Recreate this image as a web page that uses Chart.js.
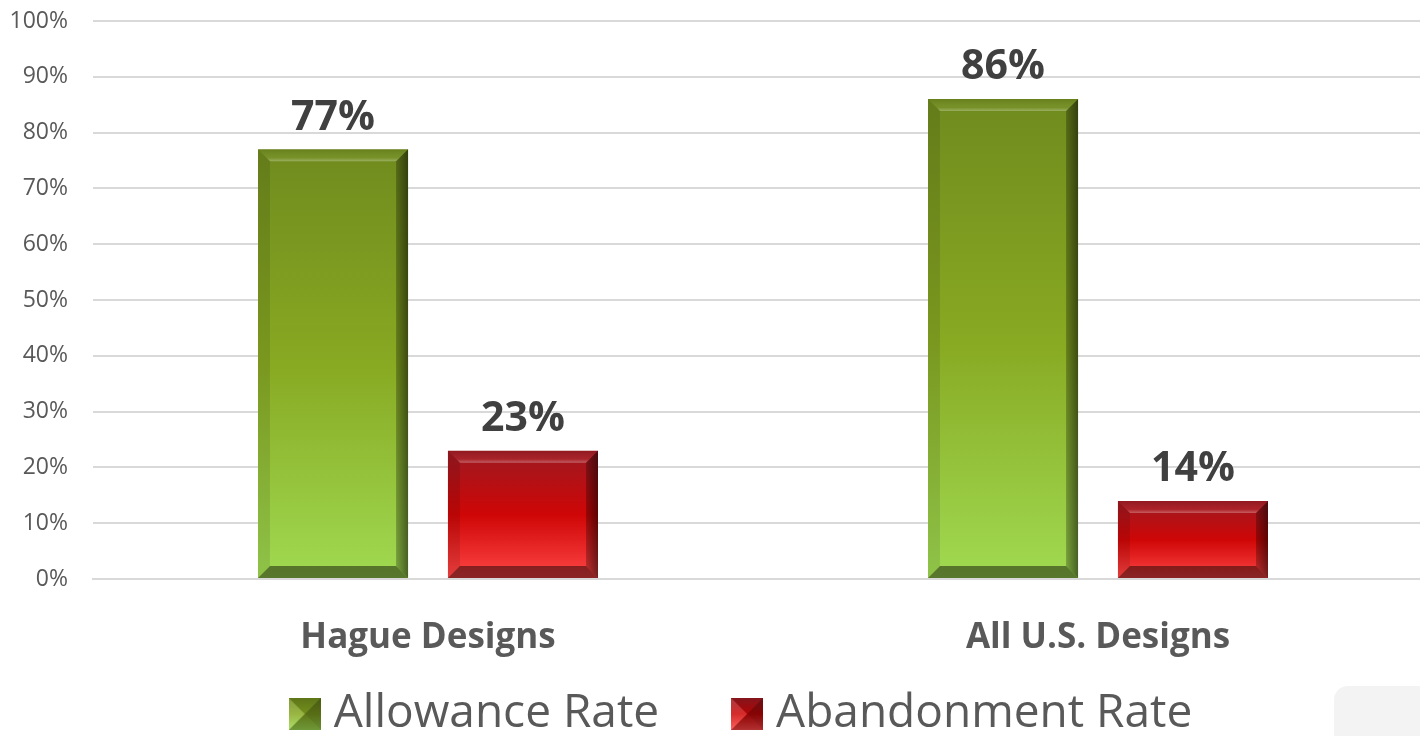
<!DOCTYPE html>
<html>
<head>
<meta charset="utf-8">
<script src="https://cdn.jsdelivr.net/npm/chart.js@4/dist/chart.umd.min.js"></script>
<style>
html,body{margin:0;padding:0;background:#fff;overflow:hidden;}
#wrap{position:relative;width:1433px;height:736px;}
#mark{position:absolute;left:1334px;top:686px;width:120px;height:70px;background:#f3f3f3;border-radius:14px 14px 0 0;}
canvas{display:block;}
</style>
</head>
<body>
<div id="wrap"><div id="mark"></div><canvas id="c" width="1433" height="736"></canvas></div>
<script>
const categories = ["Hague Designs", "All U.S. Designs"];
const seriesNames = ["Allowance Rate", "Abandonment Rate"];
const allowanceRate = [77, 86];
const abandonmentRate = [23, 14];
const yTicks = [0,10,20,30,40,50,60,70,80,90,100];

const palettes = [
  ["#708b1e", "#88a922", "#a0da52"],
  ["#9c1a22", "#cf0606", "#ff4646"]
];
const FONT = '"Open Sans", "Noto Sans", sans-serif';

function barGradient(ctx, di){
  const chart = ctx.chart;
  const ys = chart.scales.y;
  if(!ys || !chart.chartArea) return palettes[di][1];
  const v = ctx.raw;
  const top = ys.getPixelForValue(v), base = ys.getPixelForValue(0);
  const g = chart.ctx.createLinearGradient(0, top, 0, base);
  const p = palettes[di];
  g.addColorStop(0, p[0]); g.addColorStop(0.5, p[1]); g.addColorStop(1, p[2]);
  return g;
}

function legendIcon(di){
  const s = 32, c = document.createElement('canvas');
  c.width = s; c.height = s;
  const x = c.getContext('2d');
  const p = palettes[di];
  const g = x.createLinearGradient(0,0,0,s);
  g.addColorStop(0,p[0]); g.addColorStop(0.5,p[1]); g.addColorStop(1,p[2]);
  x.fillStyle = g; x.fillRect(0,0,s,s);
  const m = s/2;
  const tri = (pts, col) => { x.beginPath(); x.moveTo(pts[0],pts[1]); x.lineTo(pts[2],pts[3]); x.lineTo(m,m); x.closePath(); x.fillStyle = col; x.fill(); };
  tri([0,0,s,0], 'rgba(0,0,0,0.15)');
  tri([s,0,s,s], 'rgba(0,0,0,0.35)');
  tri([0,s,s,s], 'rgba(0,0,0,0.3)');
  tri([0,0,0,s], 'rgba(255,255,255,0.15)');
  return c;
}
const icons = [legendIcon(0), legendIcon(1)];

const bevelPlugin = {
  id: 'bevel',
  afterDatasetsDraw(chart){
    const ctx = chart.ctx;
    chart.data.datasets.forEach((ds, di) => {
      chart.getDatasetMeta(di).data.forEach(bar => {
        const {x, y, base, width} = bar.getProps(['x','y','base','width'], true);
        const l = x - width/2, r = x + width/2, t = y, b = base, e = 12;
        const poly = (pts, fill) => { ctx.beginPath(); ctx.moveTo(pts[0][0], pts[0][1]); for(let i=1;i<pts.length;i++) ctx.lineTo(pts[i][0], pts[i][1]); ctx.closePath(); ctx.fillStyle = fill; ctx.fill(); };
        ctx.save();
        let g = ctx.createLinearGradient(0, t, 0, t+e);
        g.addColorStop(0, 'rgba(0,0,0,0.08)'); g.addColorStop(0.7,'rgba(255,255,255,0.05)'); g.addColorStop(1, 'rgba(255,255,255,0.3)');
        poly([[l,t],[r,t],[r-e,t+e],[l+e,t+e]], g);
        poly([[l,t],[l+e,t+e],[l+e,b-e],[l,b]], 'rgba(0,0,0,0.1)');
        g = ctx.createLinearGradient(r-e, 0, r, 0);
        g.addColorStop(0, 'rgba(0,0,0,0.25)'); g.addColorStop(1, 'rgba(0,0,0,0.55)');
        poly([[r,t],[r,b],[r-e,b-e],[r-e,t+e]], g);
        poly([[l,b],[r,b],[r-e,b-e],[l+e,b-e]], 'rgba(0,0,0,0.45)');
        ctx.restore();
      });
    });
  }
};

const labelPlugin = {
  id: 'vals',
  afterDatasetsDraw(chart){
    const ctx = chart.ctx;
    ctx.save();
    ctx.font = 'bold 41px ' + FONT;
    ctx.fillStyle = '#404040';
    ctx.textAlign = 'center';
    ctx.textBaseline = 'bottom';
    chart.data.datasets.forEach((ds, di) => {
      chart.getDatasetMeta(di).data.forEach((bar, i) => {
        ctx.fillText(ds.data[i] + '%', bar.x, bar.y - 11);
      });
    });
    ctx.restore();
  }
};

const LEGEND_H = 50, LEGEND_SHIFT_Y = -77, LEGEND_SHIFT_X = 29;
const legendPatch = {
  id: 'legendPatch',
  beforeLayout(chart){
    const lg = chart.legend;
    if(!lg || lg._patched) return;
    lg._patched = true;
    const f = lg.fit, d = lg.draw;
    lg.fit = function(){ f.call(this); this.height = LEGEND_H; };
    lg.draw = function(){
      const t = this.top, l = this.left, r = this.right;
      this.top = t + LEGEND_SHIFT_Y; this.left = l + LEGEND_SHIFT_X; this.right = r + LEGEND_SHIFT_X;
      d.call(this);
      this.top = t; this.left = l; this.right = r;
    };
  }
};

new Chart(document.getElementById('c'), {
  type: 'bar',
  data: {
    labels: categories,
    datasets: [
      { label: seriesNames[0], data: allowanceRate, backgroundColor: c => barGradient(c, 0), pointStyle: icons[0] },
      { label: seriesNames[1], data: abandonmentRate, backgroundColor: c => barGradient(c, 1), pointStyle: icons[1] }
    ]
  },
  options: {
    responsive: false,
    animation: false,
    devicePixelRatio: 1,
    categoryPercentage: 0.567,
    barPercentage: 0.79,
    layout: { padding: { top: 21, right: 0, bottom: 0, left: 0 } },
    plugins: {
      tooltip: { enabled: false },
      legend: {
        position: 'bottom',
        labels: {
          usePointStyle: true,
          pointStyleWidth: 12,
          font: { size: 46, family: FONT },
          color: '#595959',
          padding: 82,
          boxWidth: 32, boxHeight: 32
        }
      }
    },
    scales: {
      x: {
        afterFit: s => { s.height = 107; s.paddingLeft = 0; s.paddingRight = 0; },
        grid: { display: false, drawTicks: false },
        border: { display: true, color: '#d9d9d9', width: 2 },
        ticks: { color: '#595959', font: { size: 35, weight: 'bold', family: FONT }, padding: 38 }
      },
      y: {
        min: 0, max: 100,
        afterFit: s => { s.width = 93; s.paddingTop = 0; s.paddingBottom = 0; },
        afterBuildTicks: s => { s.ticks = yTicks.map(v => ({ value: v })); },
        grid: { color: '#d9d9d9', lineWidth: 2, drawTicks: false },
        border: { display: false },
        ticks: { color: '#595959', font: { size: 23, family: FONT }, padding: 25, callback: v => v + '%' }
      }
    }
  },
  plugins: [legendPatch, bevelPlugin, labelPlugin]
});
</script>
</body>
</html>
